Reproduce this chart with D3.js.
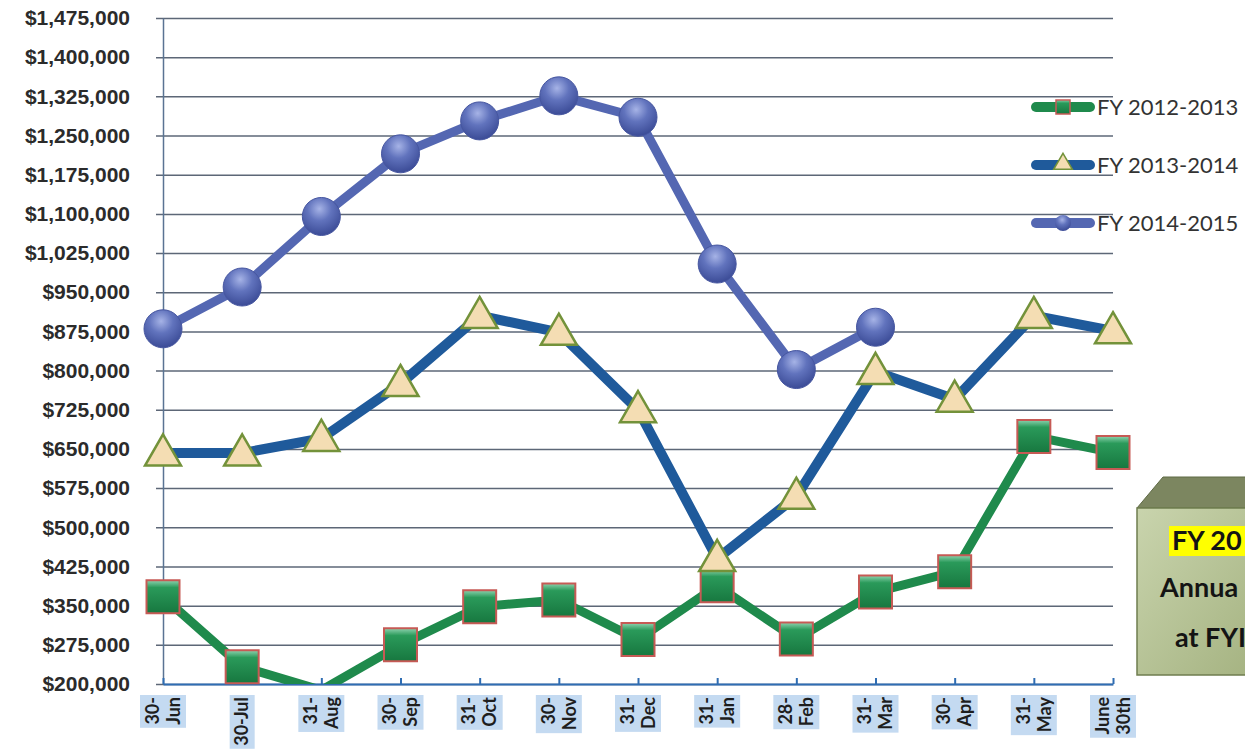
<!DOCTYPE html>
<html>
<head>
  <meta charset='utf-8'>
  <script src="https://d3js.org/d3.v7.min.js"></script>
  <style>
    body { margin: 0; background: #fff; }
    svg { display: block; font-family: Lato, 'Open Sans', sans-serif; }
  </style>
</head>
<body>
  <script type='text/javascript'>
    // Chart data
    var months = ['30-Jun', '30-Jul', '31-Aug', '30-Sep', '31-Oct', '30-Nov', '31-Dec',
                  '31-Jan', '28-Feb', '31-Mar', '30-Apr', '31-May', 'June 30th'];
    var monthLines = [['30-', 'Jun'], ['30-Jul'], ['31-', 'Aug'], ['30-', 'Sep'], ['31-', 'Oct'],
                      ['30-', 'Nov'], ['31-', 'Dec'], ['31-', 'Jan'], ['28-', 'Feb'], ['31-', 'Mar'],
                      ['30-', 'Apr'], ['31-', 'May'], ['June', '30th']];
    var seriesNames = ['FY 2012-2013', 'FY 2013-2014', 'FY 2014-2015'];
    var fy1213 = [367000, 233000, 188000, 275000, 348000, 361000, 285000, 388000, 286000, 376000, 415000, 674000, 643000];
    var fy1314 = [642000, 642000, 670000, 775000, 905000, 873000, 725000, 440000, 559000, 798000, 745000, 905000, 876000];
    var fy1415 = [880000, 960000, 1095000, 1215000, 1278000, 1326000, 1285000, 1004000, 802000, 883000, null, null, null];
    var yTicks = d3.range(200000, 1475001, 75000);
    var boxLines = ['FY 20', 'Annua', 'at FYI'];

    var width = 1245, height = 753;
    var plotLeft = 163, plotRight = 1113, plotTop = 18, plotBottom = 684;

    var svg = d3.select('body').append('svg')
      .attr('width', width)
      .attr('height', height);

    var defs = svg.append('defs');
    defs.append('clipPath').attr('id', 'plotClip')
      .append('rect').attr('x', 0).attr('y', 0).attr('width', width).attr('height', plotBottom);

    var rg = defs.append('radialGradient').attr('id', 'ballGrad')
      .attr('cx', '45%').attr('cy', '30%').attr('r', '70%');
    rg.append('stop').attr('offset', '0%').attr('stop-color', '#a6b3e6');
    rg.append('stop').attr('offset', '45%').attr('stop-color', '#6173bd');
    rg.append('stop').attr('offset', '100%').attr('stop-color', '#3b4b96');

    var sg = defs.append('linearGradient').attr('id', 'sqGrad')
      .attr('x1', 0).attr('y1', 0).attr('x2', 0).attr('y2', 1);
    sg.append('stop').attr('offset', '0%').attr('stop-color', '#8fd3b0');
    sg.append('stop').attr('offset', '22%').attr('stop-color', '#2a9a5a');
    sg.append('stop').attr('offset', '100%').attr('stop-color', '#17773f');

    var bg = defs.append('linearGradient').attr('id', 'boxGrad')
      .attr('x1', 0).attr('y1', 0).attr('x2', 1).attr('y2', 1);
    bg.append('stop').attr('offset', '0%').attr('stop-color', '#c9d4ad');
    bg.append('stop').attr('offset', '100%').attr('stop-color', '#a3b17f');

    var x = d3.scalePoint().domain(months).range([plotLeft, plotRight]);
    var y = d3.scaleLinear().domain([200000, 1475000]).range([plotBottom, plotTop]);

    // Gridlines (with the little cross ticks left of the axis)
    var grid = svg.append('g')
      .attr('transform', 'translate(156,0)')
      .call(d3.axisRight(y).tickValues(yTicks).tickSize(plotRight - 156).tickFormat(''));
    grid.select('.domain').remove();
    grid.selectAll('line').attr('stroke', '#5d6777').attr('stroke-width', 1.5);

    // Y axis
    var yAxis = svg.append('g')
      .attr('transform', 'translate(' + plotLeft + ',0)')
      .call(d3.axisLeft(y).tickValues(yTicks).tickSize(0).tickPadding(33).tickFormat(d3.format('$,')));
    yAxis.select('.domain').attr('stroke', '#5a7393').attr('stroke-width', 1.5);
    yAxis.selectAll('text')
      .attr('fill', '#2b2b2b')
      .style('font-size', '21px')
      .style('font-weight', 'bold');

    // X axis
    var xAxis = svg.append('g')
      .attr('transform', 'translate(0,' + plotBottom + ')')
      .call(d3.axisBottom(x).tickSize(-6).tickSizeOuter(0).tickFormat(''));
    xAxis.selectAll('.domain, line').attr('stroke', '#2f6db3').attr('stroke-width', 2);

    // X labels, rotated, on light blue patches
    months.forEach(function(m, i) {
      var lines = monthLines[i];
      var g = svg.append('g')
        .attr('transform', 'translate(' + x(m) + ',697) rotate(-90)');
      var rect = g.append('rect').attr('fill', '#c4daf1');
      var maxLen = 0;
      lines.forEach(function(s, k) {
        var t = g.append('text')
          .attr('x', 0)
          .attr('y', (k - (lines.length - 1) / 2) * 21)
          .attr('dy', '0.35em')
          .attr('text-anchor', 'end')
          .attr('fill', '#1e1e1e')
          .style('font-size', '18px')
          .style('font-weight', 'bold')
          .text(s);
        maxLen = Math.max(maxLen, t.node().getComputedTextLength());
      });
      var half = lines.length * 10.5 + 2;
      rect.attr('x', -maxLen - 3).attr('y', -half).attr('width', maxLen + 5).attr('height', half * 2);
    });

    // Series
    var lineGen = d3.line()
      .defined(function(d) { return d != null; })
      .x(function(d, i) { return x(months[i]); })
      .y(function(d) { return y(d); });

    function drawLine(values, color, w) {
      svg.append('path')
        .datum(values)
        .attr('clip-path', 'url(#plotClip)')
        .attr('fill', 'none')
        .attr('stroke', color)
        .attr('stroke-width', w)
        .attr('stroke-linejoin', 'round')
        .attr('d', lineGen);
    }

    function visible(values) {
      return values.map(function(v, i) { return {v: v, i: i}; })
        .filter(function(d) { return d.v != null && d.v >= 200000; });
    }

    var squareSym = d3.symbol().type(d3.symbolSquare).size(33 * 33);
    var triSym = d3.symbol().type(d3.symbolTriangle).size(560);

    // FY 2012-2013
    drawLine(fy1213, '#1f8a4c', 9);
    svg.append('g').selectAll('path')
      .data(visible(fy1213)).enter().append('path')
      .attr('d', squareSym)
      .attr('transform', function(d) { return 'translate(' + x(months[d.i]) + ',' + y(d.v) + ')'; })
      .attr('fill', 'url(#sqGrad)')
      .attr('stroke', '#c65a55')
      .attr('stroke-width', 2);

    // FY 2013-2014
    drawLine(fy1314, '#1f5a9b', 10);
    svg.append('g').selectAll('path')
      .data(visible(fy1314)).enter().append('path')
      .attr('d', triSym)
      .attr('transform', function(d) { return 'translate(' + x(months[d.i]) + ',' + (y(d.v) + 2) + ')'; })
      .attr('fill', '#f4ddb3')
      .attr('stroke', '#73923a')
      .attr('stroke-width', 2.5);

    // FY 2014-2015
    drawLine(fy1415, '#5467b2', 9);
    svg.append('g').selectAll('circle')
      .data(visible(fy1415)).enter().append('circle')
      .attr('cx', function(d) { return x(months[d.i]); })
      .attr('cy', function(d) { return y(d.v); })
      .attr('r', 19)
      .attr('fill', 'url(#ballGrad)')
      .attr('stroke', '#4656a0')
      .attr('stroke-width', 1);

    // Legend
    var legendY = [107, 165, 223];
    var legendColors = ['#1f8a4c', '#1f5a9b', '#5467b2'];
    seriesNames.forEach(function(name, i) {
      var g = svg.append('g').attr('transform', 'translate(0,' + legendY[i] + ')');
      g.append('line')
        .attr('x1', 1036).attr('x2', 1090).attr('y1', 0).attr('y2', 0)
        .attr('stroke', legendColors[i]).attr('stroke-width', 10).attr('stroke-linecap', 'round');
      if (i === 0) {
        g.append('path').attr('d', d3.symbol().type(d3.symbolSquare).size(196))
          .attr('transform', 'translate(1063,0)')
          .attr('fill', 'url(#sqGrad)').attr('stroke', '#c65a55').attr('stroke-width', 1.5);
      } else if (i === 1) {
        g.append('path').attr('d', d3.symbol().type(d3.symbolTriangle).size(150))
          .attr('transform', 'translate(1063,-1)')
          .attr('fill', '#f4ddb3').attr('stroke', '#73923a').attr('stroke-width', 1.5);
      } else {
        g.append('circle').attr('cx', 1063).attr('cy', 0).attr('r', 8)
          .attr('fill', 'url(#ballGrad)');
      }
      g.append('text')
        .attr('x', 1097).attr('y', 0).attr('dy', '0.35em')
        .attr('fill', '#333')
        .style('font-size', '22px')
        .text(name);
    });

    // Note box in the corner (runs off the picture)
    var box = svg.append('g');
    box.append('path')
      .attr('d', 'M1137,508 L1163,477 L1260,477 L1260,508 Z')
      .attr('fill', '#7c8660').attr('stroke', '#5f6a45').attr('stroke-width', 1);
    box.append('rect')
      .attr('x', 1137).attr('y', 508).attr('width', 130).attr('height', 167)
      .attr('fill', 'url(#boxGrad)').attr('stroke', '#6f7d4f').attr('stroke-width', 1.5);
    box.append('rect')
      .attr('x', 1169).attr('y', 526).attr('width', 90).attr('height', 30)
      .attr('fill', '#ffff00');
    var boxX = [1172, 1160, 1175];
    var boxY = [541, 588, 638];
    boxLines.forEach(function(s, i) {
      box.append('text')
        .attr('x', boxX[i]).attr('y', boxY[i]).attr('dy', '0.35em')
        .attr('fill', '#141414')
        .style('font-size', '27px')
        .style('font-weight', 'bold')
        .text(s);
    });
  </script>
</body>
</html>
